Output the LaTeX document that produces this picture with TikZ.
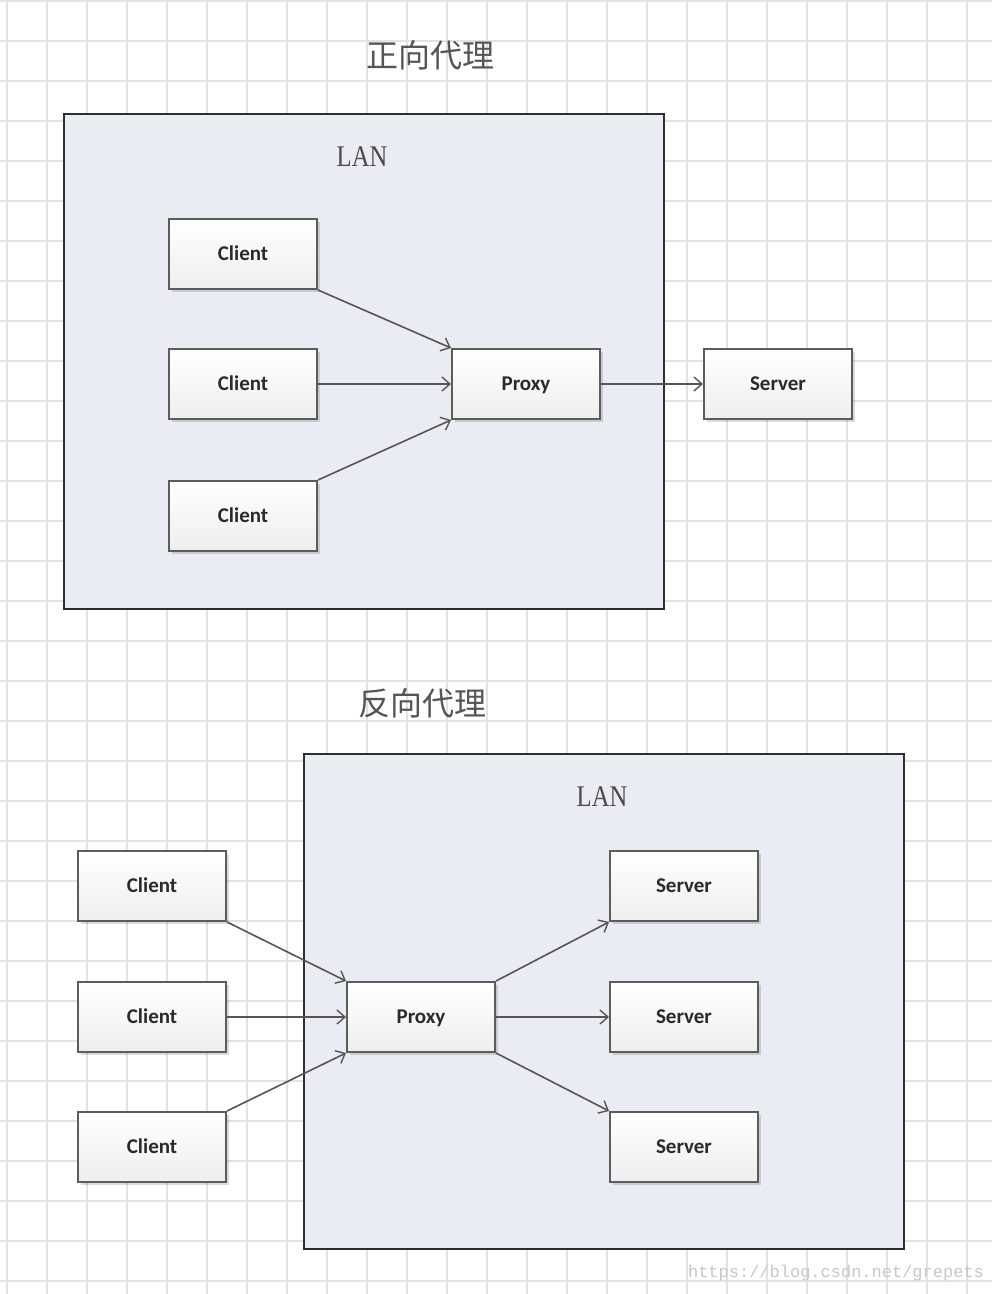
\documentclass[tikz,border=0pt]{standalone}
\usepackage{fontspec}
\newfontfamily\cjk{Noto Sans CJK SC}
\newfontfamily\carl{Carlito}
\newfontfamily\tms{Liberation Serif}
\newfontfamily\mono{Liberation Mono}
\usetikzlibrary{arrows.meta,shadows}
\definecolor{gridc}{HTML}{E2E2E2}
\definecolor{lanfill}{HTML}{E9ECF3}
\definecolor{lanline}{HTML}{2E2E2E}
\definecolor{boxline}{HTML}{5C5C5C}
\definecolor{boxbot}{HTML}{EEEEEE}
\definecolor{arrowc}{HTML}{555555}
\definecolor{textc}{HTML}{2A2A2A}
\tikzset{
  lanbox/.style={draw=lanline, line width=2pt, fill=lanfill, anchor=north west, minimum width=600pt, minimum height=495pt, inner sep=0pt},
  box/.style={draw=boxline, line width=2pt, top color=white, bottom color=boxbot, minimum width=148pt, minimum height=70pt, inner sep=0pt,
    text height=16pt, text depth=3pt,
    font=\carl\bfseries\fontsize{21}{24}\selectfont, text=textc,
    drop shadow={shadow xshift=2.5pt, shadow yshift=-2.5pt, opacity=0.14, fill=black}},
  title/.style={font=\cjk\fontsize{32}{36}\selectfont, text=textc!80},
  lantext/.style={font=\tms\fontsize{30}{34}\selectfont, text=textc!85},
  conn/.style={draw=arrowc, line width=1.6pt, -{Straight Barb[length=8pt,width=14pt,line width=1.4pt]}},
}
\begin{document}
\begin{tikzpicture}[x=1pt,y=-1pt]
\useasboundingbox (0,0) rectangle (992,1294);
\fill[white] (0,0) rectangle (992,1294);
% grid
\foreach \k in {0,...,24} \draw[gridc, line width=1.5pt] ({7+40*\k},0) -- ({7+40*\k},1294);
\foreach \k in {0,...,32} \draw[gridc, line width=1.5pt] (0,{1+40*\k}) -- (992,{1+40*\k});

% ---------- forward proxy ----------
\node[title] (t1) at (430,55) {正向代理};
\node[lanbox] (lan1) at (63,113) {};
\node[lantext] (lanlab1) at (362,157) {\scalebox{0.82}[1]{LAN}};
\node[box] (c11) at (243,254) {Client};
\node[box] (c12) at (243,384) {Client};
\node[box] (c13) at (243,516) {Client};
\node[box] (p1) at (526,384) {Proxy};
\node[box] (s1) at (778,384) {Server};
\draw[conn] (c11.south east) -- (p1.north west);
\draw[conn] (c12.east) -- (p1.west);
\draw[conn] (c13.north east) -- (p1.south west);
\draw[conn] (p1.east) -- (s1.west);

% ---------- reverse proxy ----------
\node[title] (t2) at (422,703) {反向代理};
\node[lanbox] (lan2) at (303,753) {};
\node[lantext] (lanlab2) at (602,797) {\scalebox{0.82}[1]{LAN}};
\node[box] (c21) at (152,886) {Client};
\node[box] (c22) at (152,1017) {Client};
\node[box] (c23) at (152,1147) {Client};
\node[box] (p2) at (421,1017) {Proxy};
\node[box] (s21) at (684,886) {Server};
\node[box] (s22) at (684,1017) {Server};
\node[box] (s23) at (684,1147) {Server};
\draw[conn] (c21.south east) -- (p2.north west);
\draw[conn] (c22.east) -- (p2.west);
\draw[conn] (c23.north east) -- (p2.south west);
\draw[conn] (p2.north east) -- (s21.south west);
\draw[conn] (p2.east) -- (s22.west);
\draw[conn] (p2.south east) -- (s23.north west);

\node[text=black!22, font=\mono\fontsize{17}{20}\selectfont] (wm) at (836,1273) {https://blog.csdn.net/grepets};
\end{tikzpicture}
\end{document}
